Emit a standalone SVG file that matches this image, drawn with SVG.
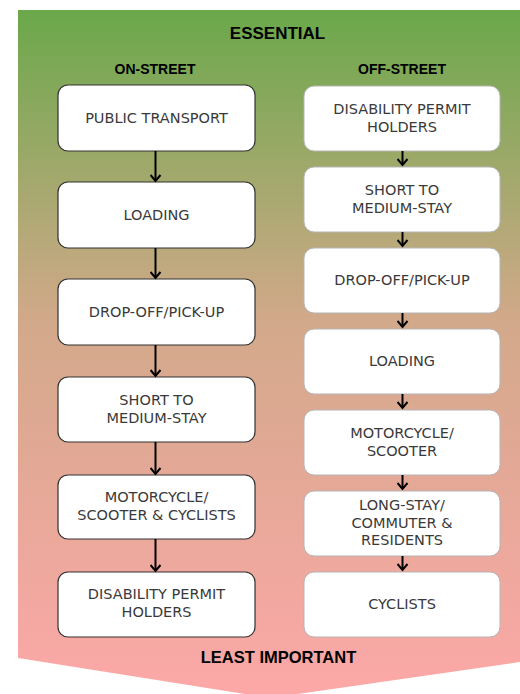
<svg xmlns="http://www.w3.org/2000/svg" width="520" height="694" viewBox="0 0 520 694">
  <defs>
    <linearGradient id="bg" x1="0" y1="0" x2="0" y2="1">
      <stop offset="0" stop-color="#6aa84a"/>
      <stop offset="0.45" stop-color="#d2a98a"/>
      <stop offset="1" stop-color="#fda8a8"/>
    </linearGradient>
    <marker id="head" markerWidth="10" markerHeight="12" refX="8" refY="6" orient="auto" markerUnits="userSpaceOnUse" viewBox="0 0 10 12">
      <path d="M2,1 L8,6 L2,11" fill="none" stroke="#000" stroke-width="2"/>
    </marker>
  </defs>
  <style>
    .title { font-family: "Liberation Sans", Arial, sans-serif; font-weight: bold; fill: #000; text-anchor: middle; }
    .box-on { fill: #fff; stroke: #333; stroke-width: 1.2; }
    .box-off { fill: #fff; stroke: #b5b5b5; stroke-width: 1; }
    .label { font-family: "DejaVu Sans", Verdana, sans-serif; font-size: 14.5px; fill: #3a3a3a; text-anchor: middle; }
    .conn { stroke: #000; stroke-width: 2; fill: none; marker-end: url(#head); }
  </style>

  <!-- downward priority arrow -->
  <path d="M18,10 L520,10 L520,662 L270,698 L18,658 Z" fill="url(#bg)"/>

  <text class="title" x="277.5" y="39" font-size="17">ESSENTIAL</text>
  <text class="title" x="155" y="74" font-size="14">ON-STREET</text>
  <text class="title" x="402" y="74" font-size="14">OFF-STREET</text>
  <text class="title" x="278.5" y="663" font-size="16.5">LEAST IMPORTANT</text>

  <!-- on-street column -->
  <g id="on-public-transport">
    <rect class="box-on" x="58" y="85" width="197" height="66" rx="10"/>
    <text class="label" x="156.5" y="123">PUBLIC TRANSPORT</text>
  </g>
  <g id="on-loading">
    <rect class="box-on" x="58" y="182" width="197" height="66" rx="10"/>
    <text class="label" x="156.5" y="220">LOADING</text>
  </g>
  <g id="on-drop-off">
    <rect class="box-on" x="58" y="279" width="197" height="66" rx="10"/>
    <text class="label" x="156.5" y="317">DROP-OFF/PICK-UP</text>
  </g>
  <g id="on-short-stay">
    <rect class="box-on" x="58" y="377" width="197" height="65" rx="10"/>
    <text class="label" x="156.5" y="405">SHORT TO</text>
    <text class="label" x="156.5" y="423">MEDIUM-STAY</text>
  </g>
  <g id="on-motorcycle">
    <rect class="box-on" x="58" y="475" width="197" height="64" rx="10"/>
    <text class="label" x="156.5" y="502">MOTORCYCLE/</text>
    <text class="label" x="156.5" y="520">SCOOTER &amp; CYCLISTS</text>
  </g>
  <g id="on-disability">
    <rect class="box-on" x="58" y="572" width="197" height="65" rx="10"/>
    <text class="label" x="156.5" y="599">DISABILITY PERMIT</text>
    <text class="label" x="156.5" y="617">HOLDERS</text>
  </g>

  <!-- off-street column -->
  <g id="off-disability">
    <rect class="box-off" x="304" y="86" width="196" height="65" rx="10"/>
    <text class="label" x="402" y="114">DISABILITY PERMIT</text>
    <text class="label" x="402" y="132">HOLDERS</text>
  </g>
  <g id="off-short-stay">
    <rect class="box-off" x="304" y="167" width="196" height="65" rx="10"/>
    <text class="label" x="402" y="195">SHORT TO</text>
    <text class="label" x="402" y="213">MEDIUM-STAY</text>
  </g>
  <g id="off-drop-off">
    <rect class="box-off" x="304" y="248" width="196" height="65" rx="10"/>
    <text class="label" x="402" y="285">DROP-OFF/PICK-UP</text>
  </g>
  <g id="off-loading">
    <rect class="box-off" x="304" y="329" width="196" height="65" rx="10"/>
    <text class="label" x="402" y="366">LOADING</text>
  </g>
  <g id="off-motorcycle">
    <rect class="box-off" x="304" y="410" width="196" height="65" rx="10"/>
    <text class="label" x="402" y="438">MOTORCYCLE/</text>
    <text class="label" x="402" y="456">SCOOTER</text>
  </g>
  <g id="off-long-stay">
    <rect class="box-off" x="304" y="491" width="196" height="65" rx="10"/>
    <text class="label" x="402" y="510">LONG-STAY/</text>
    <text class="label" x="402" y="528">COMMUTER &amp;</text>
    <text class="label" x="402" y="545">RESIDENTS</text>
  </g>
  <g id="off-cyclists">
    <rect class="box-off" x="304" y="572" width="196" height="65" rx="10"/>
    <text class="label" x="402" y="609">CYCLISTS</text>
  </g>

  <g id="connectors">
    <line class="conn" x1="155.5" y1="151" x2="155.5" y2="181"/>
    <line class="conn" x1="155.5" y1="248" x2="155.5" y2="278"/>
    <line class="conn" x1="155.5" y1="345" x2="155.5" y2="376"/>
    <line class="conn" x1="155.5" y1="442" x2="155.5" y2="474"/>
    <line class="conn" x1="155.5" y1="539" x2="155.5" y2="571"/>

    <line class="conn" x1="402.5" y1="151" x2="402.5" y2="165"/>
    <line class="conn" x1="402.5" y1="232" x2="402.5" y2="246"/>
    <line class="conn" x1="402.5" y1="313" x2="402.5" y2="327"/>
    <line class="conn" x1="402.5" y1="394" x2="402.5" y2="408"/>
    <line class="conn" x1="402.5" y1="475" x2="402.5" y2="489"/>
    <line class="conn" x1="402.5" y1="556" x2="402.5" y2="570"/>
  </g>
</svg>
